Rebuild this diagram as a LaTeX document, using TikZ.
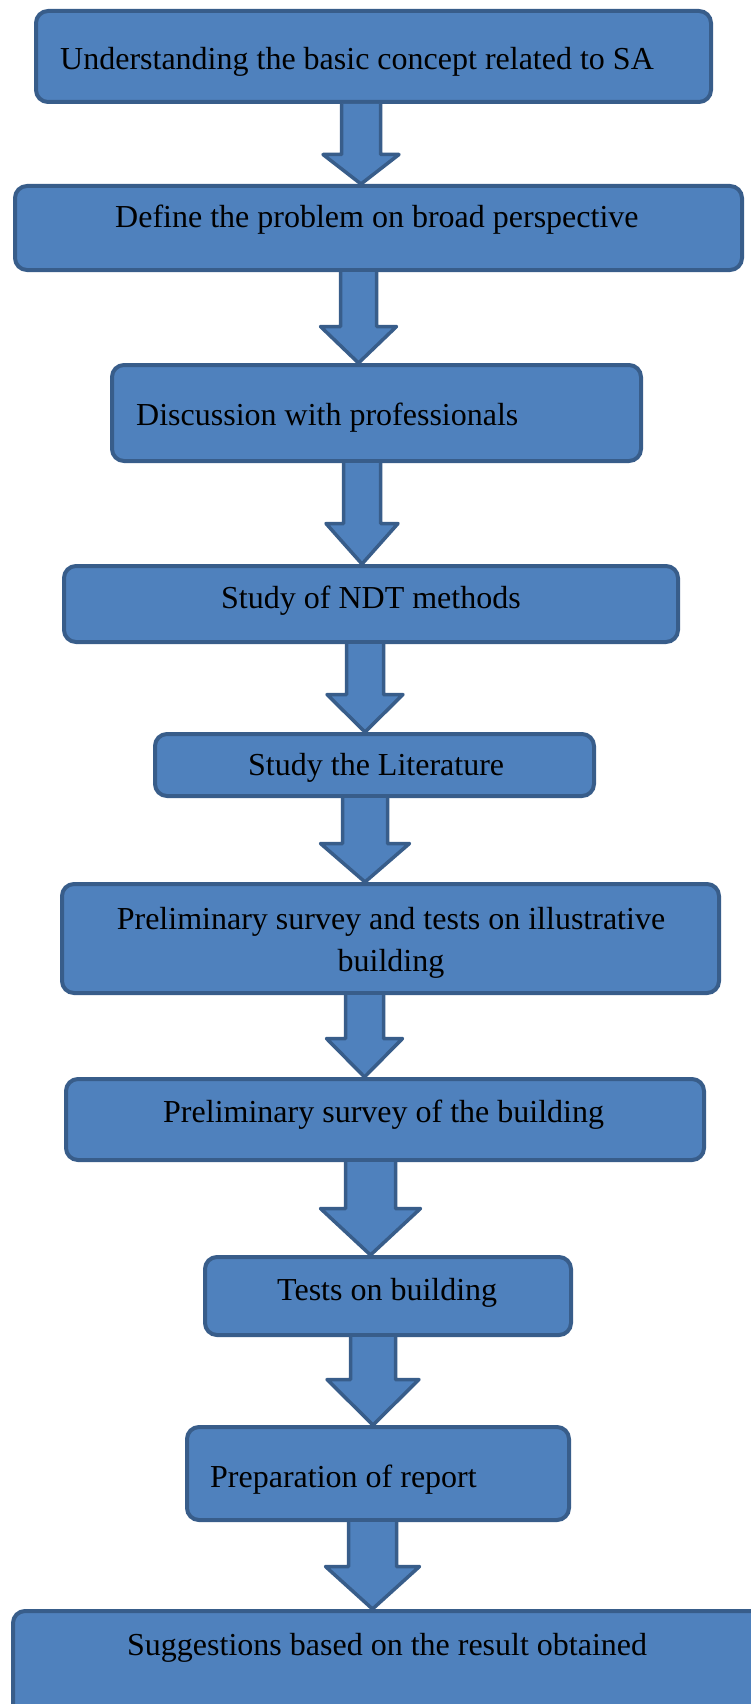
\documentclass[tikz,border=0pt]{standalone}
\usepackage{fontspec}
\setmainfont{Liberation Serif}
\usetikzlibrary{calc}

\definecolor{boxfill}{HTML}{4F81BD}
\definecolor{boxline}{HTML}{385D8A}

%block arrow: from node, to node, centre x, shaft half width, head half width, head start y
\newcommand{\blockarrow}[6]{%
  \filldraw[arrowbody] let \p1=(#1.south), \p2=(#2.north) in
    ({#3-#4},\y1) -- ({#3-#4},-#6) -- ({#3-#5},-#6) -- (#3,\y2)
    -- ({#3+#5},-#6) -- ({#3+#4},-#6) -- ({#3+#4},\y1);}

\begin{document}
\begin{tikzpicture}[x=1pt,y=1pt,
	flowbox/.style={draw=boxline,fill=boxfill,line width=4pt,rounded corners=12pt,inner sep=0pt},
	flowtext/.style={inner sep=0pt,anchor=base west,font=\fontsize{32}{42}\selectfont},
	arrowbody/.style={draw=boxline,fill=boxfill,line width=3.5pt,line join=round}]
	\clip (0,0) rectangle (751,-1704);
	\fill[white] (0,0) rectangle (751,-1704);

	%boxes
	\node[flowbox,minimum width=675,minimum height=91] (b1) at (373.5,-56.5) {}; %basic concept
	\node[flowbox,minimum width=727,minimum height=84] (b2) at (378.5,-228) {}; %define problem
	\node[flowbox,minimum width=529,minimum height=96] (b3) at (376.5,-413) {}; %discussion
	\node[flowbox,minimum width=614,minimum height=76] (b4) at (371,-604) {}; %NDT methods
	\node[flowbox,minimum width=439,minimum height=62] (b5) at (374.5,-765) {}; %literature
	\node[flowbox,minimum width=657,minimum height=109] (b6) at (390.5,-938.5) {}; %illustrative building
	\node[flowbox,minimum width=638,minimum height=81] (b7) at (385,-1119.5) {}; %survey of building
	\node[flowbox,minimum width=366,minimum height=78] (b8) at (388,-1296) {}; %tests
	\node[flowbox,minimum width=382,minimum height=93] (b9) at (378,-1473.5) {}; %report
	\node[flowbox,minimum width=786,minimum height=148] (b10) at (406,-1685) {}; %suggestions

	%labels
	\node[flowtext] (t1) at (60,-70) {Understanding the basic concept related to SA};
	\node[flowtext] (t2) at (115,-228) {Define the problem on broad perspective};
	\node[flowtext] (t3) at (136,-425) {Discussion with professionals};
	\node[flowtext] (t4) at (221,-608) {Study of NDT methods};
	\node[flowtext] (t5) at (248,-775) {Study the Literature};
	\node[flowtext,anchor=center,align=center] (t6) at (391,-942.5)
	  {Preliminary survey and tests on illustrative\\building};
	\node[flowtext] (t7) at (163,-1122) {Preliminary survey of the building};
	\node[flowtext] (t8) at (277,-1300) {Tests on building};
	\node[flowtext] (t9) at (210,-1487) {Preparation of report};
	\node[flowtext] (t10) at (127,-1655) {Suggestions based on the result obtained};

	%arrows
	\blockarrow{b1}{b2}{361}{19.5}{38}{154.5}
	\blockarrow{b2}{b3}{358.5}{18}{38}{326.5}
	\blockarrow{b3}{b4}{362}{18.5}{36}{523.5}
	\blockarrow{b4}{b5}{365}{18.5}{38}{694.5}
	\blockarrow{b5}{b6}{365}{22.5}{44.5}{843.5}
	\blockarrow{b6}{b7}{364.5}{19}{38}{1038.5}
	\blockarrow{b7}{b8}{370.5}{25}{50}{1208.5}
	\blockarrow{b8}{b9}{373}{22.5}{46}{1379.5}
	\blockarrow{b9}{b10}{372.5}{24}{47}{1566.5}
\end{tikzpicture}
\end{document}
